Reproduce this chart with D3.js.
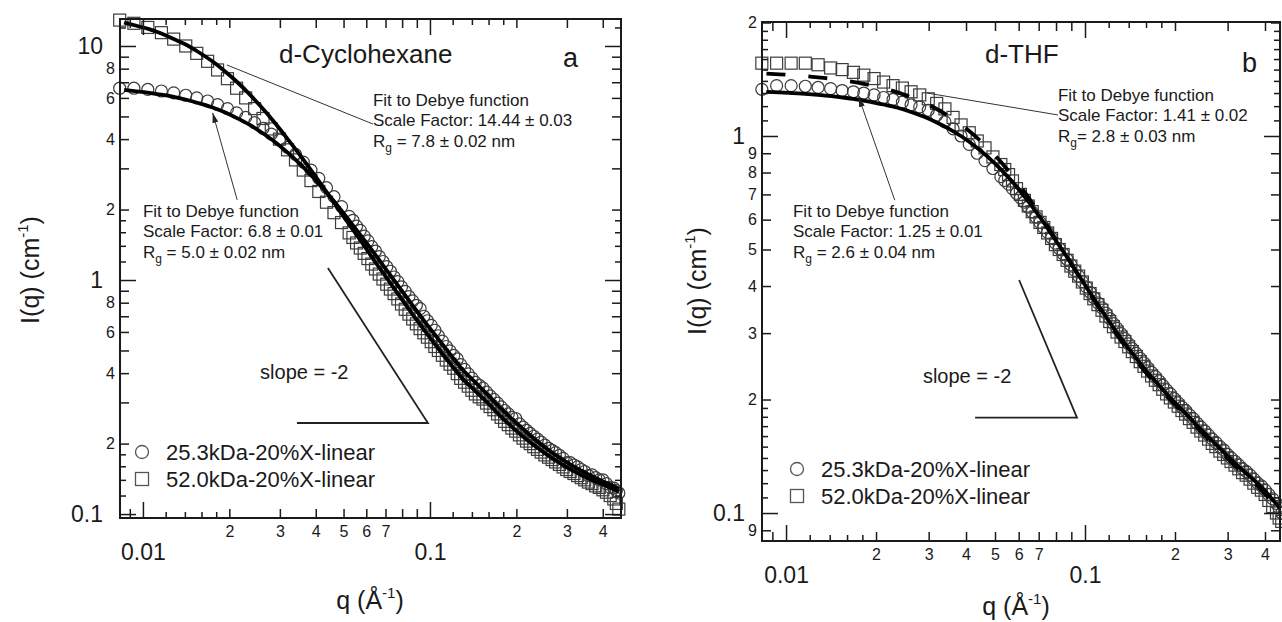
<!DOCTYPE html>
<html>
<head>
<meta charset="utf-8">
<script src="https://cdn.jsdelivr.net/npm/d3@7"></script>
<style>
  body { margin: 0; background: #fff; }
  text { font-family: Arial, "Liberation Sans", sans-serif; fill: #1a1a1a; }
</style>
</head>
<body>
<div id="chart"></div>
<script>
// measured points, shared q grid (1/A)
var qData = [0.0083, 0.0093, 0.0104, 0.0116, 0.0128, 0.0141, 0.0154, 0.0168, 0.0182, 0.0197,
  0.0212, 0.0228, 0.0245, 0.0262, 0.028, 0.0299, 0.0319, 0.034, 0.0362, 0.0385,
  0.041, 0.0436, 0.0463, 0.0492,
  0.0523, 0.0539, 0.0555, 0.0572, 0.059, 0.0608, 0.0627, 0.0646, 0.0666, 0.0686,
  0.0707, 0.0728, 0.075, 0.0773, 0.0796, 0.082, 0.0845, 0.0871, 0.0897, 0.0924,
  0.0952, 0.098, 0.101, 0.104, 0.107, 0.1105, 0.114, 0.1175, 0.121, 0.1245,
  0.128, 0.132, 0.136, 0.14, 0.144, 0.1485, 0.153, 0.1575, 0.162, 0.167,
  0.172, 0.177, 0.182, 0.1875, 0.193, 0.199, 0.205, 0.211, 0.217, 0.2235,
  0.23, 0.237, 0.244, 0.2515, 0.259, 0.2665, 0.274, 0.2825, 0.291, 0.2995,
  0.308, 0.3175, 0.327, 0.3365, 0.346, 0.3565, 0.367, 0.378, 0.389, 0.4005,
  0.412, 0.4245, 0.437, 0.446, 0.455];

// d-cyclohexane, 25.3 kDa (circles) and 52.0 kDa (squares)
var cycloSmall = [6.6, 6.6, 6.52, 6.42, 6.3, 6.16, 6.0, 5.82, 5.62, 5.4,
  5.18, 4.95, 4.7, 4.45, 4.2, 3.96, 3.69, 3.44, 3.19, 2.95,
  2.72, 2.48, 2.27, 2.06,
  1.87, 1.80, 1.7, 1.63, 1.54, 1.47, 1.39, 1.33, 1.26, 1.2,
  1.14, 1.09, 1.03, 0.985, 0.935, 0.895, 0.85, 0.815, 0.78, 0.755,
  0.70, 0.67, 0.64, 0.61, 0.578, 0.548, 0.52, 0.498, 0.476, 0.46,
  0.435, 0.415, 0.397, 0.381, 0.365, 0.355, 0.345, 0.332, 0.32, 0.309,
  0.298, 0.287, 0.277, 0.268, 0.259, 0.256, 0.243, 0.235, 0.228, 0.221,
  0.215, 0.209, 0.203, 0.197, 0.191, 0.187, 0.183, 0.178, 0.173, 0.166,
  0.166, 0.162, 0.159, 0.155, 0.152, 0.146, 0.147, 0.143, 0.14, 0.14,
  0.135, 0.13, 0.129, 0.126, 0.123];
var cycloLarge = [12.9, 12.5, 12.0, 11.4, 10.7, 10.0, 9.3, 8.6, 7.9, 7.25,
  6.6, 6.0, 5.4, 4.9, 4.42, 4.0, 3.6, 3.26, 2.95, 2.66,
  2.39, 2.15, 1.94, 1.76,
  1.59, 1.52, 1.44, 1.37, 1.3, 1.235, 1.17, 1.115, 1.06, 1.01,
  0.96, 0.915, 0.875, 0.83, 0.79, 0.75, 0.715, 0.682, 0.65, 0.62,
  0.595, 0.57, 0.545, 0.52, 0.5, 0.477, 0.455, 0.437, 0.42, 0.398,
  0.38, 0.366, 0.352, 0.338, 0.326, 0.317, 0.31, 0.298, 0.288, 0.279,
  0.268, 0.259, 0.249, 0.241, 0.233, 0.226, 0.218, 0.211, 0.205, 0.2,
  0.194, 0.189, 0.184, 0.179, 0.175, 0.171, 0.167, 0.163, 0.159, 0.155,
  0.152, 0.149, 0.146, 0.143, 0.14, 0.137, 0.135, 0.132, 0.13, 0.127,
  0.124, 0.12, 0.116, 0.111, 0.105];

// d-THF
var thfSmall = [1.33, 1.36, 1.36, 1.355, 1.345, 1.335, 1.32, 1.31, 1.3, 1.285,
  1.265, 1.25, 1.23, 1.21, 1.195, 1.17, 1.135, 1.09, 1.045, 1.0,
  0.95, 0.9, 0.86, 0.82,
  0.78, 0.762, 0.745, 0.725, 0.705, 0.686, 0.668, 0.648, 0.628, 0.609,
  0.59, 0.572, 0.555, 0.537, 0.52, 0.503, 0.487, 0.471, 0.455, 0.44,
  0.425, 0.411, 0.398, 0.385, 0.373, 0.361, 0.35, 0.339, 0.328, 0.318,
  0.309, 0.299, 0.29, 0.281, 0.273, 0.265, 0.257, 0.25, 0.243, 0.236,
  0.23, 0.224, 0.218, 0.212, 0.207, 0.201, 0.196, 0.191, 0.187, 0.182,
  0.178, 0.173, 0.169, 0.165, 0.161, 0.157, 0.154, 0.15, 0.147, 0.143,
  0.14, 0.137, 0.134, 0.131, 0.129, 0.126, 0.123, 0.12, 0.118, 0.115,
  0.112, 0.109, 0.106, 0.103, 0.1];
var thfLarge = [1.56, 1.56, 1.56, 1.56, 1.545, 1.515, 1.5, 1.475, 1.45, 1.42,
  1.39, 1.36, 1.34, 1.31, 1.285, 1.255, 1.22, 1.18, 1.12, 1.07,
  1.02, 0.97, 0.93, 0.88,
  0.84, 0.815, 0.79, 0.76, 0.725, 0.70, 0.675, 0.652, 0.63, 0.61,
  0.59, 0.572, 0.553, 0.535, 0.515, 0.5, 0.485, 0.468, 0.452, 0.438,
  0.425, 0.41, 0.395, 0.382, 0.37, 0.357, 0.345, 0.333, 0.322, 0.312,
  0.302, 0.293, 0.285, 0.276, 0.268, 0.26, 0.252, 0.245, 0.238, 0.231,
  0.225, 0.219, 0.213, 0.207, 0.202, 0.197, 0.192, 0.187, 0.183, 0.178,
  0.174, 0.169, 0.165, 0.161, 0.157, 0.153, 0.15, 0.146, 0.143, 0.14,
  0.137, 0.134, 0.131, 0.128, 0.126, 0.123, 0.12, 0.117, 0.115, 0.112,
  0.108, 0.104, 0.1, 0.097, 0.095];

// Debye fits
var qFit = [0.0086, 0.0095, 0.0105, 0.0116, 0.0128, 0.0142, 0.0157, 0.0174, 0.0192, 0.0212,
  0.0235, 0.026, 0.0287, 0.0318, 0.0351, 0.0389, 0.043, 0.0475, 0.0526, 0.0581,
  0.0643, 0.0711, 0.0787, 0.087, 0.0962, 0.106, 0.118, 0.13, 0.144, 0.159,
  0.176, 0.195, 0.215, 0.238, 0.263, 0.291, 0.322, 0.356, 0.394, 0.435,
  0.455];
var cycloFitSmall = [6.5, 6.4, 6.31, 6.19, 6.06, 5.89, 5.69, 5.47, 5.22, 4.93,
  4.61, 4.26, 3.91, 3.52, 3.15, 2.77, 2.41, 2.09, 1.78, 1.52,
  1.29, 1.09, 0.92, 0.78, 0.66, 0.567, 0.479, 0.414, 0.365, 0.323,
  0.284, 0.252, 0.226, 0.203, 0.185, 0.17, 0.158, 0.148, 0.139, 0.132,
  0.128];
var cycloFitLarge = [12.6, 12.2, 11.8, 11.3, 10.7, 10.1, 9.38, 8.62, 7.84, 7.05,
  6.23, 5.44, 4.72, 4.03, 3.44, 2.9, 2.44, 2.05, 1.71, 1.44,
  1.2, 1.01, 0.846, 0.713, 0.604, 0.516, 0.437, 0.378, 0.335, 0.298,
  0.262, 0.233, 0.21, 0.191, 0.175, 0.162, 0.151, 0.142, 0.135, 0.128,
  0.125];
var thfFitSmall = [1.31, 1.305, 1.3, 1.293, 1.285, 1.275, 1.263, 1.249, 1.231, 1.212,
  1.19, 1.16, 1.128, 1.088, 1.045, 0.994, 0.938, 0.878, 0.812, 0.745,
  0.674, 0.605, 0.537, 0.478, 0.422, 0.375, 0.33, 0.295, 0.265, 0.24,
  0.219, 0.2, 0.185, 0.17, 0.157, 0.145, 0.134, 0.125, 0.116, 0.106,
  0.102];
var thfFitLarge = [1.463, 1.457, 1.45, 1.442, 1.43, 1.419, 1.403, 1.386, 1.363, 1.338,
  1.307, 1.27, 1.23, 1.181, 1.127, 1.065, 0.998, 0.927, 0.849, 0.771,
  0.692, 0.615, 0.542, 0.478, 0.42, 0.372, 0.327, 0.292, 0.262, 0.237,
  0.216, 0.198, 0.183, 0.168, 0.155, 0.143, 0.132, 0.123, 0.114, 0.104,
  0.1];

var seriesNames = ["25.3kDa-20%X-linear", "52.0kDa-20%X-linear"];

// tick labels
var xMajorLabels = [0.01, 0.1];
var xMinorLabels = [0.02, 0.03, 0.04, 0.05, 0.06, 0.07, 0.2, 0.3, 0.4];
var cycloYMajorLabels = [0.1, 1, 10];
var cycloYMinorLabels = [0.2, 0.4, 0.6, 0.8, 2, 4, 6, 8];
var thfYMajorLabels = [0.1, 1];
var thfYMinorLabels = [0.09, 0.2, 0.3, 0.4, 0.5, 0.6, 0.7, 0.8, 0.9, 2];

// annotations (data coordinates)
var cycloNotes = [
  {at: [0.0633, 5.54], lines: ["Fit to Debye function", "Scale Factor: 14.44 \u00b1 0.03", " = 7.8 \u00b1 0.02 nm"]},
  {at: [0.01, 1.86], lines: ["Fit to Debye function", "Scale Factor: 6.8 \u00b1 0.01", " = 5.0 \u00b1 0.02 nm"]}
];
var cycloLeaders = [
  {from: [0.0633, 4.64], to: [0.0196, 8.3], arrow: false},
  {from: [0.0213, 2.2], to: [0.0175, 5.18], arrow: true}
];
var cycloSlope = [[0.0344, 0.245], [0.0984, 0.245], [0.0441, 1.125]];
var cycloSlopeText = [0.0256, 0.377];

var thfNotes = [
  {at: [0.0812, 1.238], lines: ["Fit to Debye function", "Scale Factor: 1.41 \u00b1 0.02", "= 2.8 \u00b1 0.03 nm"]},
  {at: [0.01055, 0.61], lines: ["Fit to Debye function", "Scale Factor: 1.25 \u00b1 0.01", " = 2.6 \u00b1 0.04 nm"]}
];
var thfLeaders = [
  {from: [0.0812, 1.137], to: [0.0296, 1.30], arrow: false},
  {from: [0.0231, 0.676], to: [0.0175, 1.269], arrow: true}
];
var thfSlope = [[0.0429, 0.179], [0.094, 0.179], [0.0602, 0.415]];
var thfSlopeText = [0.0287, 0.221];

var svg = d3.select("#chart")
    .append("svg")
    .attr("width", 1282)
    .attr("height", 622);

var defs = svg.append("defs");
defs.append("marker")
    .attr("id", "arrowhead")
    .attr("viewBox", "0 0 10 6")
    .attr("refX", 10).attr("refY", 3)
    .attr("markerWidth", 10).attr("markerHeight", 6)
    .attr("markerUnits", "userSpaceOnUse")
    .attr("orient", "auto")
    .append("path")
      .attr("d", "M0,0L10,3L0,6Z")
      .attr("fill", "#222");

function logValues(domain, mults) {
  var out = [];
  for (var e = -3; e <= 2; e++) {
    mults.forEach(function(m) {
      var v = +(m * Math.pow(10, e)).toPrecision(4);
      if (v >= domain[0] * 0.999 && v <= domain[1] * 1.001) out.push(v);
    });
  }
  return out;
}

function inList(list, v) {
  return list.some(function(l) { return Math.abs(l - v) / v < 1e-6; });
}

function leadDigit(v) {
  return String(Math.round(v / Math.pow(10, Math.floor(Math.log10(v) + 1e-9))));
}

function drawAxis(g, axis, transform, fontSize) {
  var a = g.append("g").attr("transform", transform).call(axis);
  a.select(".domain").remove();
  a.selectAll("line").attr("stroke", "#1a1a1a").attr("stroke-width", 1.5);
  a.attr("font-size", fontSize).attr("font-family", null).attr("color", "#1a1a1a");
  return a;
}

function drawPanel(p) {
  var width = p.right - p.left,
      height = p.bottom - p.top;
  var g = svg.append("g")
      .attr("transform", "translate(" + p.left + "," + p.top + ")");

  var x = d3.scaleLog().domain(p.xDomain).range([0, width]);
  var y = d3.scaleLog().domain(p.yDomain).range([height, 0]);

  g.append("clipPath").attr("id", p.id + "-clip")
    .append("rect").attr("width", width).attr("height", height);

  // markers (hollow, as plotted)
  var pts = qData.map(function(q, i) { return {q: q, s: p.small[i], l: p.large[i]}; });
  g.append("g").selectAll("circle")
      .data(pts)
      .enter()
      .append("circle")
        .attr("cx", function(d) { return x(d.q); })
        .attr("cy", function(d) { return y(d.s); })
        .attr("r", 6)
        .attr("fill", "none")
        .attr("stroke", "#3c3c3c")
        .attr("stroke-width", 1.2);
  g.append("g").selectAll("rect")
      .data(pts)
      .enter()
      .append("rect")
        .attr("x", function(d) { return x(d.q) - 6; })
        .attr("y", function(d) { return y(d.l) - 6; })
        .attr("width", 12)
        .attr("height", 12)
        .attr("fill", "none")
        .attr("stroke", "#3c3c3c")
        .attr("stroke-width", 1.2);

  // fits
  var line = d3.line()
      .x(function(d) { return x(d[0]); })
      .y(function(d) { return y(d[1]); })
      .curve(d3.curveMonotoneX);
  var fits = g.append("g").attr("clip-path", "url(#" + p.id + "-clip)");
  fits.append("path")
      .datum(qFit.map(function(q, i) { return [q, p.fitLarge[i]]; }))
      .attr("d", line)
      .attr("fill", "none")
      .attr("stroke", "#000")
      .attr("stroke-width", 3.8)
      .attr("stroke-dasharray", p.dashLarge ? "19,23" : null);
  fits.append("path")
      .datum(qFit.map(function(q, i) { return [q, p.fitSmall[i]]; }))
      .attr("d", line)
      .attr("fill", "none")
      .attr("stroke", "#000")
      .attr("stroke-width", 3.8);

  // slope triangle
  g.append("path")
      .datum(p.slope)
      .attr("d", d3.line().x(function(d) { return x(d[0]); }).y(function(d) { return y(d[1]); }))
      .attr("fill", "none")
      .attr("stroke", "#222")
      .attr("stroke-width", 1.8);
  g.append("text")
      .attr("x", x(p.slopeText[0]))
      .attr("y", y(p.slopeText[1]))
      .attr("font-size", 20)
      .text("slope = -2");

  // leader lines
  p.leaders.forEach(function(l) {
    g.append("line")
        .attr("x1", x(l.from[0])).attr("y1", y(l.from[1]))
        .attr("x2", x(l.to[0])).attr("y2", y(l.to[1]))
        .attr("stroke", "#333")
        .attr("stroke-width", 1)
        .attr("marker-end", l.arrow ? "url(#arrowhead)" : null);
  });

  // fit notes
  p.notes.forEach(function(n) {
    var t = g.append("text")
        .attr("x", x(n.at[0]))
        .attr("y", y(n.at[1]))
        .attr("font-size", 17);
    t.append("tspan").text(n.lines[0]);
    t.append("tspan").attr("x", x(n.at[0])).attr("dy", 20).text(n.lines[1]);
    t.append("tspan").attr("x", x(n.at[0])).attr("dy", 21).text("R");
    t.append("tspan").attr("font-size", 12).attr("dy", 5).text("g");
    t.append("tspan").attr("dy", -5).text(n.lines[2]);
  });

  // titles
  g.append("text").attr("x", p.titlePos[0]).attr("y", p.titlePos[1])
      .attr("font-size", 26).text(p.title);
  g.append("text").attr("x", p.letterPos[0]).attr("y", p.letterPos[1])
      .attr("font-size", 27).text(p.letter);

  // legend
  var lg = g.append("g").attr("transform", "translate(" + p.legendPos[0] + "," + p.legendPos[1] + ")");
  lg.append("circle").attr("cx", 0).attr("cy", 0).attr("r", 6.5)
      .attr("fill", "none").attr("stroke", "#555").attr("stroke-width", 1.3);
  lg.append("rect").attr("x", -6.5).attr("y", 27 - 6.5).attr("width", 13).attr("height", 13)
      .attr("fill", "none").attr("stroke", "#555").attr("stroke-width", 1.3);
  lg.append("text").attr("x", 24).attr("y", 7.5).attr("font-size", 22).text(seriesNames[0]);
  lg.append("text").attr("x", 24).attr("y", 34.5).attr("font-size", 22).text(seriesNames[1]);

  // axes: sub-minor, minor (labelled), major (labelled)
  var xSub = logValues(p.xDomain, [1.2, 1.4, 1.6, 1.8]);
  var xMinor = logValues(p.xDomain, [2, 3, 4, 5, 6, 7, 8, 9]);
  var xMajor = logValues(p.xDomain, [1]);
  var ySub = logValues(p.yDomain, p.ySubMults);
  var yMinor = logValues(p.yDomain, [2, 3, 4, 5, 6, 7, 8, 9]);
  var yMajor = logValues(p.yDomain, [1]);

  var minorX = function(d) { return inList(xMinorLabels, d) ? leadDigit(d) : ""; };
  var minorY = function(d) { return inList(p.yMinorLabels, d) ? leadDigit(d) : ""; };
  var majorX = function(d) { return inList(xMajorLabels, d) ? String(d) : ""; };
  var majorY = function(d) { return inList(p.yMajorLabels, d) ? String(d) : ""; };

  var bottom = "translate(0," + height + ")", right = "translate(" + width + ",0)";
  drawAxis(g, d3.axisBottom(x).tickValues(xSub).tickSize(-6).tickFormat(""), bottom, 10);
  drawAxis(g, d3.axisBottom(x).tickValues(xMinor).tickSize(-9).tickPadding(8).tickFormat(minorX), bottom, 16);
  drawAxis(g, d3.axisBottom(x).tickValues(xMajor).tickSize(-16).tickPadding(26).tickFormat(majorX), bottom, 23);
  drawAxis(g, d3.axisTop(x).tickValues(xSub).tickSize(-6).tickFormat(""), null, 10);
  drawAxis(g, d3.axisTop(x).tickValues(xMinor).tickSize(-9).tickFormat(""), null, 10);
  drawAxis(g, d3.axisTop(x).tickValues(xMajor).tickSize(-16).tickFormat(""), null, 10);

  drawAxis(g, d3.axisLeft(y).tickValues(ySub).tickSize(-6).tickFormat(""), null, 10);
  drawAxis(g, d3.axisLeft(y).tickValues(yMinor).tickSize(-9).tickPadding(5).tickFormat(minorY), null, 16);
  drawAxis(g, d3.axisLeft(y).tickValues(yMajor).tickSize(-16).tickPadding(17).tickFormat(majorY), null, 23);
  drawAxis(g, d3.axisRight(y).tickValues(ySub).tickSize(-6).tickFormat(""), right, 10);
  drawAxis(g, d3.axisRight(y).tickValues(yMinor).tickSize(-9).tickFormat(""), right, 10);
  drawAxis(g, d3.axisRight(y).tickValues(yMajor).tickSize(-16).tickFormat(""), right, 10);

  g.append("rect")
      .attr("width", width).attr("height", height)
      .attr("fill", "none")
      .attr("stroke", "#1a1a1a")
      .attr("stroke-width", 2);

  // axis titles
  var xt = g.append("text")
      .attr("x", p.xTitlePos[0]).attr("y", p.xTitlePos[1])
      .attr("text-anchor", "middle")
      .attr("font-size", 25);
  xt.append("tspan").text("q (\u00c5");
  xt.append("tspan").attr("font-size", 15).attr("dy", -11).text("-1");
  xt.append("tspan").attr("dy", 11).text(")");

  var yt = g.append("text")
      .attr("transform", "translate(" + p.yTitlePos[0] + "," + p.yTitlePos[1] + ") rotate(-90)")
      .attr("text-anchor", "middle")
      .attr("font-size", 25);
  yt.append("tspan").text("I(q) (cm");
  yt.append("tspan").attr("font-size", 15).attr("dy", -11).text("-1");
  yt.append("tspan").attr("dy", 11).text(")");
}

drawPanel({
  id: "cyclo", left: 120, right: 621, top: 19, bottom: 518,
  xDomain: [0.00832, 0.463], yDomain: [0.0962, 13.04],
  small: cycloSmall, large: cycloLarge,
  fitSmall: cycloFitSmall, fitLarge: cycloFitLarge, dashLarge: false,
  ySubMults: [1.2, 1.4, 1.6, 1.8],
  yMajorLabels: cycloYMajorLabels, yMinorLabels: cycloYMinorLabels,
  notes: cycloNotes, leaders: cycloLeaders,
  slope: cycloSlope, slopeText: cycloSlopeText,
  title: "d-Cyclohexane", titlePos: [159, 44],
  letter: "a", letterPos: [443, 48],
  legendPos: [22, 433],
  xTitlePos: [250, 590], yTitlePos: [-81, 251]
});

drawPanel({
  id: "thf", left: 762, right: 1280, top: 22, bottom: 541,
  xDomain: [0.00831, 0.449], yDomain: [0.0843, 2.006],
  small: thfSmall, large: thfLarge,
  fitSmall: thfFitSmall, fitLarge: thfFitLarge, dashLarge: true,
  ySubMults: [1.1, 1.2, 1.3, 1.4, 1.5, 1.6, 1.7, 1.8, 1.9],
  yMajorLabels: thfYMajorLabels, yMinorLabels: thfYMinorLabels,
  notes: thfNotes, leaders: thfLeaders,
  slope: thfSlope, slopeText: thfSlopeText,
  title: "d-THF", titlePos: [223, 41],
  letter: "b", letterPos: [480, 50],
  legendPos: [35, 447],
  xTitlePos: [254, 593], yTitlePos: [-56, 259]
});
</script>
</body>
</html>
